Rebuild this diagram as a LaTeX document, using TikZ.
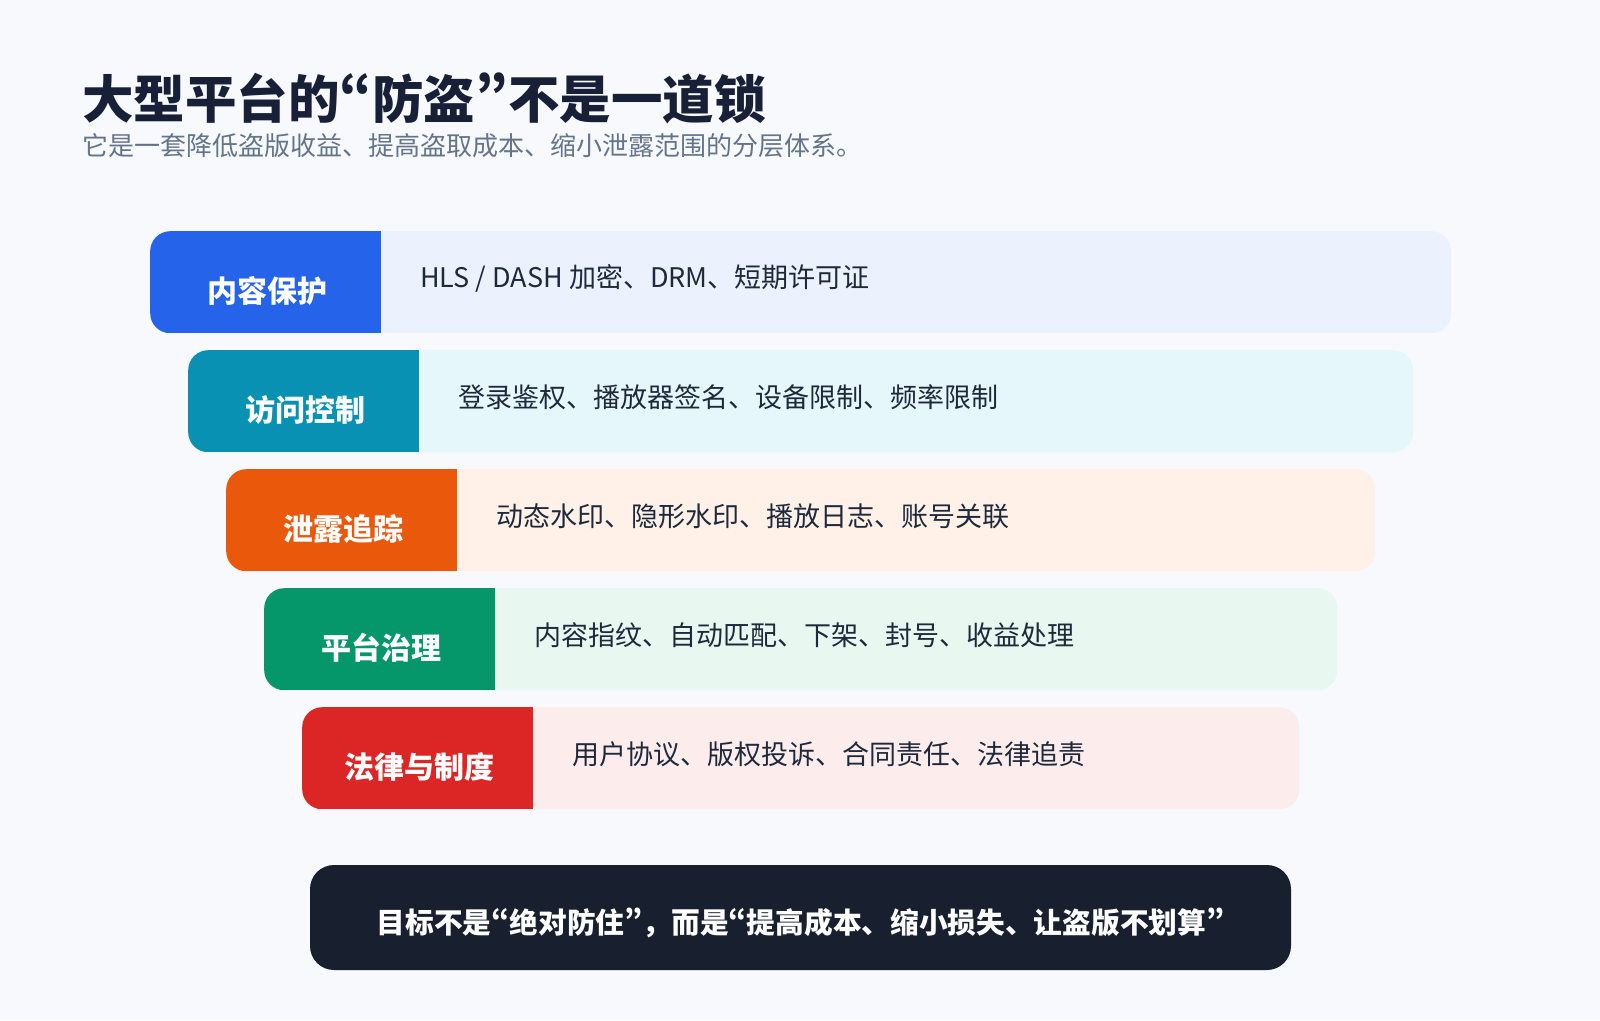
\documentclass[tikz,border=0pt]{standalone}
\usepackage{fontspec}
\setmainfont{Noto Sans CJK SC}
\newfontfamily\quotefont[RawFeature=+pwid]{Noto Sans CJK SC}
\newcommand\qopen{{\quotefont “}}
\newcommand\qclose{{\quotefont ”}}
\usetikzlibrary{positioning}
\definecolor{pagebg}{HTML}{F7F9FC}
\definecolor{titlec}{HTML}{172036}
\definecolor{subc}{HTML}{64748B}
\definecolor{itemc}{HTML}{1E293B}
\definecolor{navy}{HTML}{18202F}
\definecolor{blueA}{HTML}{2563EB}\definecolor{blueB}{HTML}{EBF2FE}
\definecolor{cyanA}{HTML}{0891B2}\definecolor{cyanB}{HTML}{E6F7FB}
\definecolor{orangeA}{HTML}{EA580C}\definecolor{orangeB}{HTML}{FFF1E8}
\definecolor{greenA}{HTML}{059669}\definecolor{greenB}{HTML}{E8F7EF}
\definecolor{redA}{HTML}{DC2626}\definecolor{redB}{HTML}{FDECEC}

\begin{document}
\begin{tikzpicture}[x=1pt,y=-1pt,
    band/.style={anchor=north west,minimum height=102pt,inner sep=0pt,rounded corners=20pt},
    layer/.style 2 args={band,fill=#2,path picture={\fill[#1,sharp corners] (path picture bounding box.north west) rectangle ([xshift=231pt]path picture bounding box.south west);}},
    tag/.style={text=white,inner sep=0pt,font=\bfseries\fontsize{30}{36}\selectfont},
    item/.style={anchor=west,inner sep=0pt,text=itemc,font=\fontsize{27}{32}\selectfont}]
  \fill[pagebg] (0,0) rectangle (1600,1020);
  \node[anchor=west,inner sep=0pt,text=titlec,font=\bfseries\fontsize{51.5}{60}\selectfont] (title) at (82,98) {大型平台的\qopen 防盗\qclose 不是一道锁};
  \node[anchor=west,inner sep=0pt,text=subc,font=\fontsize{26}{30}\selectfont] (sub) at (82,146) {它是一套降低盗版收益、提高盗取成本、缩小泄露范围的分层体系。};
  % layers
  \node[layer={blueA}{blueB},minimum width=1301pt] (r1) at (150,231) {};
  \node[layer={cyanA}{cyanB},minimum width=1225pt] (r2) at (188,350) {};
  \node[layer={orangeA}{orangeB},minimum width=1149pt] (r3) at (226,469) {};
  \node[layer={greenA}{greenB},minimum width=1073pt] (r4) at (264,588) {};
  \node[layer={redA}{redB},minimum width=997pt] (r5) at (302,707) {};
  \node[tag] (t1) at ([xshift=117pt,yshift=-9pt]r1.west) {内容保护};
  \node[tag] (t2) at ([xshift=117pt,yshift=-9pt]r2.west) {访问控制};
  \node[tag] (t3) at ([xshift=117pt,yshift=-9pt]r3.west) {泄露追踪};
  \node[tag] (t4) at ([xshift=117pt,yshift=-9pt]r4.west) {平台治理};
  \node[tag] (t5) at ([xshift=117pt,yshift=-9pt]r5.west) {法律与制度};
  \node[item] (i1) at ([xshift=270pt,yshift=4pt]r1.west) {HLS / DASH 加密、DRM、短期许可证};
  \node[item] (i2) at ([xshift=270pt,yshift=4pt]r2.west) {登录鉴权、播放器签名、设备限制、频率限制};
  \node[item] (i3) at ([xshift=270pt,yshift=4pt]r3.west) {动态水印、隐形水印、播放日志、账号关联};
  \node[item] (i4) at ([xshift=270pt,yshift=4pt]r4.west) {内容指纹、自动匹配、下架、封号、收益处理};
  \node[item] (i5) at ([xshift=270pt,yshift=4pt]r5.west) {用户协议、版权投诉、合同责任、法律追责};
  % goal
  \node[fill=navy,rounded corners=24pt,minimum width=981pt,minimum height=105pt,inner sep=0pt] (goal) at (800.5,917.5) {};
  \node[text=white,inner sep=0pt,font=\bfseries\fontsize{28.7}{34}\selectfont] (gt) at ([yshift=-5pt]goal.center) {目标不是\qopen 绝对防住\qclose ，而是\qopen 提高成本、缩小损失、让盗版不划算\qclose};
\end{tikzpicture}
\end{document}
